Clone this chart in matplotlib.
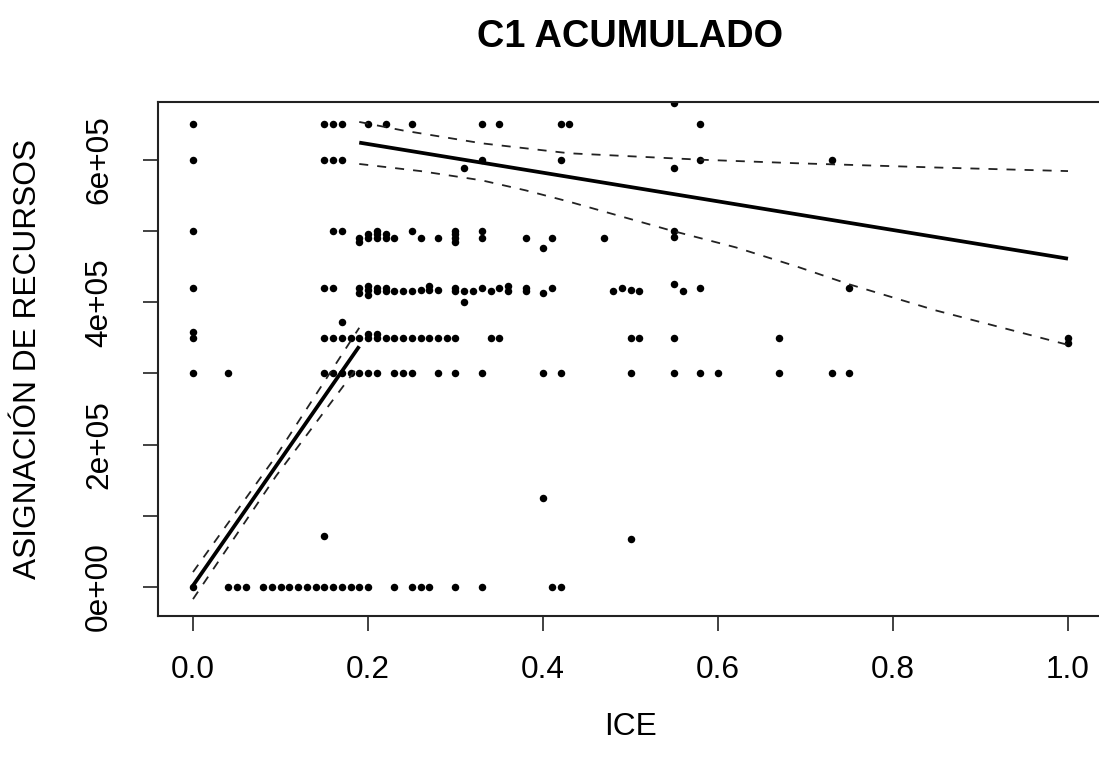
import matplotlib
matplotlib.use("Agg")
import matplotlib.pyplot as plt

plt.rcParams['font.family'] = ['Liberation Sans', 'DejaVu Sans']

# ---------------- data (ICE vs ASIGNACIÓN DE RECURSOS) ----------------
row650_x = [0.0, 0.15, 0.16, 0.17, 0.20, 0.22, 0.25, 0.33, 0.35, 0.42, 0.43, 0.58, 0.55]
row650_y = [6.5e5] * 12 + [6.8e5]

row600_x = [0.0, 0.15, 0.16, 0.17, 0.33, 0.42, 0.58, 0.73, 0.31, 0.55]
row600_y = [6.0e5] * 8 + [5.88e5, 5.88e5]

row500_x = [0.0, 0.16, 0.17, 0.19, 0.19, 0.20, 0.20, 0.21, 0.21, 0.21, 0.22, 0.22,
            0.23, 0.25, 0.26, 0.28, 0.30, 0.30, 0.30, 0.30, 0.33, 0.33, 0.38, 0.40,
            0.41, 0.47, 0.55, 0.55]
row500_y = [5.0e5, 5.0e5, 5.0e5, 4.9e5, 4.85e5, 4.95e5, 4.9e5, 5.0e5, 4.95e5, 4.9e5,
            4.95e5, 4.9e5, 4.9e5, 5.0e5, 4.9e5, 4.9e5, 5.0e5, 4.95e5, 4.9e5, 4.85e5,
            5.0e5, 4.9e5, 4.9e5, 4.76e5, 4.9e5, 4.9e5, 5.0e5, 4.92e5]

row420_x = [0.0, 0.15, 0.16, 0.19, 0.19, 0.20, 0.20, 0.20, 0.21, 0.21, 0.22, 0.22,
            0.23, 0.24, 0.25, 0.26, 0.27, 0.27, 0.28, 0.30, 0.30, 0.31, 0.31, 0.32,
            0.33, 0.34, 0.35, 0.36, 0.36, 0.38, 0.38, 0.40, 0.41, 0.48, 0.49, 0.50,
            0.51, 0.55, 0.56, 0.58, 0.75]
row420_y = [4.2e5, 4.2e5, 4.2e5, 4.2e5, 4.13e5, 4.22e5, 4.17e5, 4.1e5, 4.2e5, 4.15e5,
            4.2e5, 4.15e5, 4.15e5, 4.15e5, 4.15e5, 4.17e5, 4.22e5, 4.17e5, 4.17e5,
            4.2e5, 4.15e5, 4.15e5, 4.0e5, 4.15e5, 4.2e5, 4.15e5, 4.2e5, 4.22e5,
            4.15e5, 4.2e5, 4.15e5, 4.13e5, 4.2e5, 4.15e5, 4.2e5, 4.17e5, 4.15e5,
            4.25e5, 4.15e5, 4.2e5, 4.2e5]

row350_x = [0.0, 0.0, 0.15, 0.16, 0.17, 0.18, 0.19, 0.20, 0.21, 0.22, 0.23, 0.24,
            0.25, 0.26, 0.27, 0.28, 0.29, 0.30, 0.20, 0.21, 0.17, 0.34, 0.35, 0.50,
            0.51, 0.55, 0.67, 1.0, 1.0]
row350_y = [3.5e5, 3.58e5] + [3.5e5] * 16 + [3.55e5, 3.55e5, 3.72e5] + [3.5e5] * 7 + [3.43e5]

row300_x = [0.0, 0.04, 0.15, 0.16, 0.17, 0.18, 0.19, 0.20, 0.21, 0.23, 0.24, 0.25,
            0.28, 0.30, 0.33, 0.40, 0.42, 0.50, 0.55, 0.58, 0.60, 0.67, 0.73, 0.75]
row300_y = [3.0e5] * 24

row0_x = [0.0, 0.04, 0.05, 0.06, 0.08, 0.09, 0.10, 0.11, 0.12, 0.13, 0.14, 0.15,
          0.16, 0.17, 0.18, 0.19, 0.20, 0.23, 0.25, 0.26, 0.27, 0.30, 0.33, 0.41, 0.42]
row0_y = [0.0] * 25

low_x = [0.15, 0.40, 0.50]
low_y = [0.72e5, 1.25e5, 0.67e5]

# fitted segment 1 (ICE < 0.19) with confidence band
fit1_x = [0.0, 0.095, 0.19]
fit1_y = [0.02e5, 1.70e5, 3.38e5]
fit1_up = [0.21e5, 1.84e5, 3.64e5]
fit1_lo = [-0.17e5, 1.56e5, 3.12e5]

# fitted segment 2 (ICE >= 0.19) with confidence band
fit2_x = [0.19, 1.0]
fit2_y = [6.24e5, 4.61e5]
band2_up_x = [0.19, 0.24, 0.33, 0.43, 0.58, 0.69, 0.85, 1.0]
band2_up_y = [6.53e5, 6.41e5, 6.23e5, 6.09e5, 6.0e5, 5.95e5, 5.89e5, 5.84e5]
band2_lo_x = [0.19, 0.26, 0.33, 0.38, 0.43, 0.545, 0.62, 0.69, 0.75, 0.85, 1.0]
band2_lo_y = [5.94e5, 5.84e5, 5.71e5, 5.57e5, 5.41e5, 5.01e5, 4.77e5, 4.5e5,
              4.25e5, 3.88e5, 3.40e5]

xticks = [0.0, 0.2, 0.4, 0.6, 0.8, 1.0]
xtick_labels = ["0.0", "0.2", "0.4", "0.6", "0.8", "1.0"]
yticks = [0, 1e5, 2e5, 3e5, 4e5, 5e5, 6e5]
ytick_labels = ["0e+00", "", "2e+05", "", "4e+05", "", "6e+05"]

# ---------------- figure ----------------
W, H = 1099, 767
fig = plt.figure(figsize=(W / 100, H / 100), dpi=100)
left, right, top, bottom = 158, 1103, 102, 616
ax = fig.add_axes([left / W, 1 - bottom / H, (right - left) / W, (bottom - top) / H])

xs = row650_x + row600_x + row500_x + row420_x + row350_x + row300_x + row0_x + low_x
ys = row650_y + row600_y + row500_y + row420_y + row350_y + row300_y + row0_y + low_y
ax.plot(xs, ys, linestyle='none', marker='o', markersize=5.4, color='black',
        markeredgewidth=0, clip_on=True)

ax.plot(fit1_x, fit1_y, color='black', lw=2.7, solid_capstyle='butt')
ax.plot(fit1_x, fit1_up, color='#222222', lw=1.3, dashes=(5, 5))
ax.plot(fit1_x, fit1_lo, color='#222222', lw=1.3, dashes=(5, 5))
ax.plot(fit2_x, fit2_y, color='black', lw=2.7, solid_capstyle='butt')
ax.plot(band2_up_x, band2_up_y, color='#222222', lw=1.3, dashes=(5, 5))
ax.plot(band2_lo_x, band2_lo_y, color='#222222', lw=1.3, dashes=(5, 5))

ax.set_xlim(-0.04, 1.04)
ax.set_ylim(-0.407e5, 6.81e5)

ax.set_xticks(xticks)
ax.set_xticklabels(xtick_labels)
ax.set_yticks(yticks)
ax.set_yticklabels(ytick_labels, rotation=90, va='center')
ax.tick_params(axis='both', length=10.5, width=1.3, color='#333333', labelsize=22.8)
ax.tick_params(axis='x', pad=17.5)
ax.tick_params(axis='y', pad=21)
for sp in ax.spines.values():
    sp.set_linewidth(1.5)
    sp.set_color('#222222')

fig.text(630.5 / W, 1 - 37 / H, "C1 ACUMULADO", ha='center', va='center',
         fontsize=27.4, fontweight='bold')
fig.text(630.5 / W, 1 - 727 / H, "ICE", ha='center', va='center', fontsize=22.8)
fig.text(28 / W, 1 - 359 / H, "ASIGNACIÓN DE RECURSOS", ha='center', va='center',
         rotation=90, fontsize=22.8)

fig.savefig("out.png", dpi=100)
